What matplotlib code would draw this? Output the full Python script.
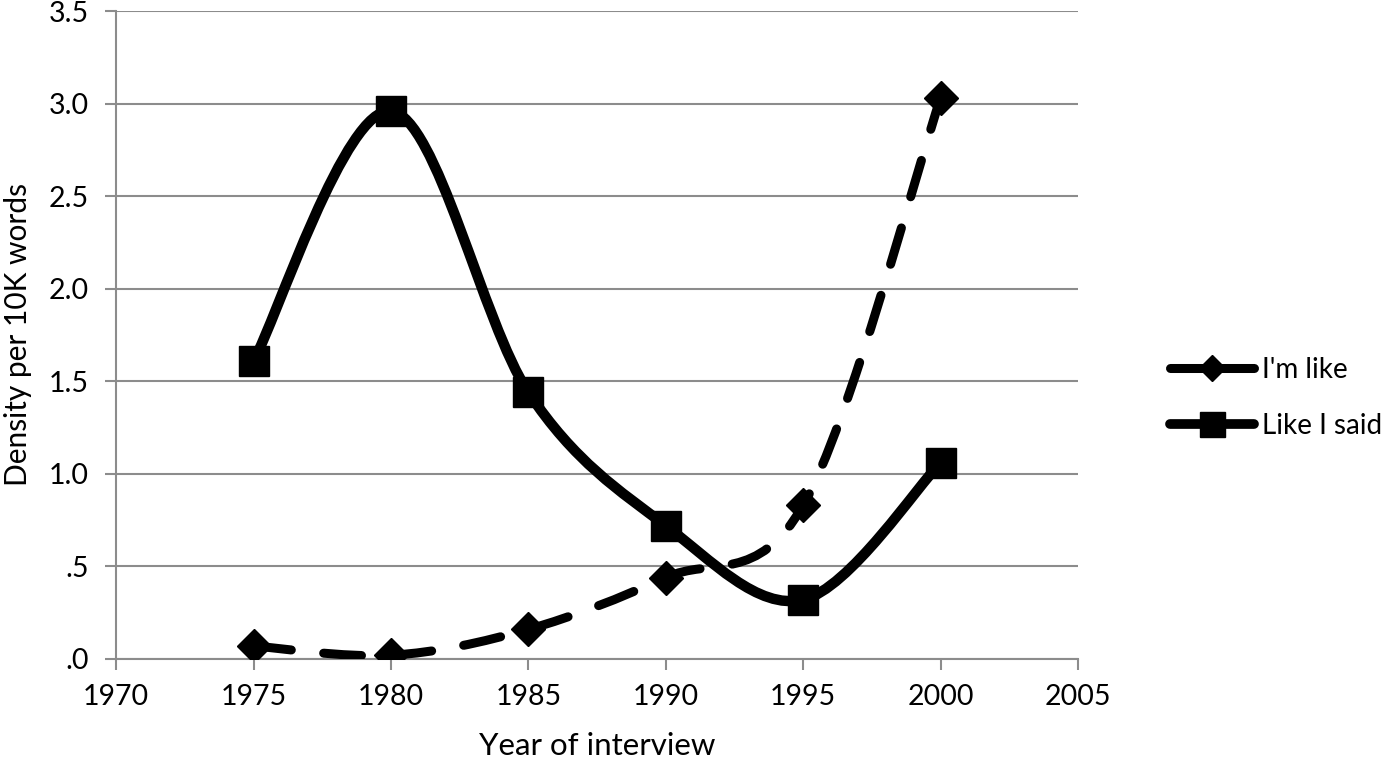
import matplotlib.pyplot as plt
import numpy as np
from matplotlib.path import Path
from matplotlib.patches import PathPatch
from matplotlib.lines import Line2D

plt.rcParams['font.family'] = ['Lato', 'DejaVu Sans']

# Data
years = [1975, 1980, 1985, 1990, 1995, 2000]
im_like = [0.07, 0.02, 0.16, 0.44, 0.83, 3.03]
like_i_said = [1.61, 2.96, 1.44, 0.72, 0.32, 1.06]

yticks = [0, 0.5, 1.0, 1.5, 2.0, 2.5, 3.0, 3.5]
ytick_labels = ['.0', '.5', '1.0', '1.5', '2.0', '2.5', '3.0', '3.5']
xticks = [1970, 1975, 1980, 1985, 1990, 1995, 2000, 2005]

DASH = (0, (4.2, 3.6))


def smooth_path(x, y):
    # Excel-like smoothed line: Catmull-Rom segments as cubic Bezier curves
    p = np.column_stack([x, y]).astype(float)
    pts = np.vstack([p[0], p, p[-1]])
    verts = [p[0]]
    codes = [Path.MOVETO]
    for i in range(1, len(pts) - 2):
        p0, p1, p2, p3 = pts[i - 1], pts[i], pts[i + 1], pts[i + 2]
        c1 = p1 + (p2 - p0) / 6.0
        c2 = p2 - (p3 - p1) / 6.0
        verts += [c1, c2, p2]
        codes += [Path.CURVE4] * 3
    return Path(verts, codes)


fig = plt.figure(figsize=(14, 7.65), dpi=100)
ax = fig.add_axes([0.083, 0.1386, 0.687, 0.847])

# Smoothed lines
ax.add_patch(PathPatch(smooth_path(years, im_like), fill=False, edgecolor='black',
                       lw=6.5, linestyle=DASH, capstyle='round', zorder=3))
ax.add_patch(PathPatch(smooth_path(years, like_i_said), fill=False, edgecolor='black',
                       lw=7.5, capstyle='round', joinstyle='round', zorder=3))

# Markers
ax.plot(years, im_like, linestyle='none', marker='D', ms=17, color='black', zorder=4)
ax.plot(years, like_i_said, linestyle='none', marker='s', ms=22, color='black', zorder=4)

ax.set_xlim(1970, 2005)
ax.set_ylim(0, 3.5)
ax.set_xticks(xticks)
ax.set_yticks(yticks)
ax.set_yticklabels(ytick_labels)
ax.grid(axis='y', color='#8c8c8c', lw=1.5)
ax.set_axisbelow(True)
for s in ['top', 'right']:
    ax.spines[s].set_visible(False)
for s in ['left', 'bottom']:
    ax.spines[s].set_color('#8c8c8c')
    ax.spines[s].set_linewidth(1.5)
ax.tick_params(axis='both', colors='#8c8c8c', width=1.5, length=8, labelsize=20.5,
               labelcolor='black')
ax.tick_params(axis='y', pad=12)
ax.tick_params(axis='x', pad=10)

ax.set_xlabel('Year of interview', fontsize=22.5, labelpad=16)
ax.set_ylabel('Density per 10K words', fontsize=21.5, labelpad=12)

handles = [
    Line2D([], [], color='black', lw=6.5, linestyle='-', solid_capstyle='round',
           marker='D', ms=13),
    Line2D([], [], color='black', lw=7, marker='s', ms=18, solid_capstyle='round'),
]
fig.legend(handles, ["I'm like", 'Like I said'], loc='center left',
           bbox_to_anchor=(0.818, 0.48), frameon=False, fontsize=20,
           handlelength=3.0, handletextpad=0.3, labelspacing=1.1)

fig.savefig('out.png', dpi=100)
